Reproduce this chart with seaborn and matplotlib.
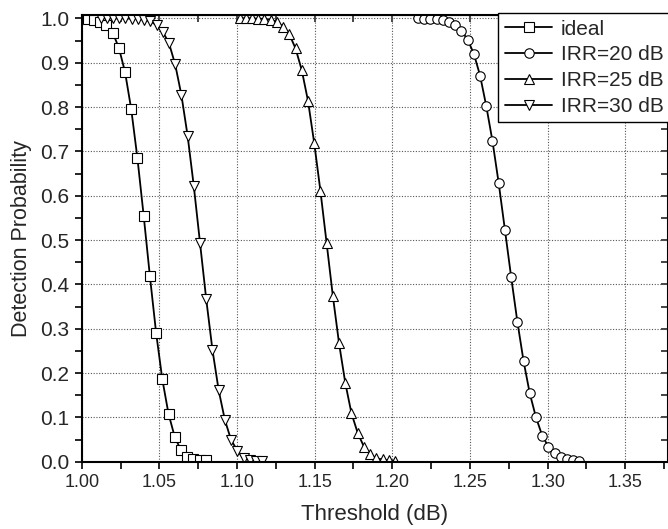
import numpy as np
import pandas as pd
import matplotlib
matplotlib.use('Agg')
import matplotlib.pyplot as plt
import seaborn as sns
from matplotlib.ticker import MultipleLocator, FormatStrFormatter

# detection probability vs threshold
ideal_x = [0.9999, 1.0039, 1.0079, 1.0119, 1.0159, 1.0199, 1.0239, 1.0279, 1.0319, 1.0359,
           1.0399, 1.0439, 1.0479, 1.0519, 1.0559, 1.0599, 1.0639, 1.0679, 1.0719, 1.0759, 1.0799]
ideal_p = [1.000, 0.998, 0.996, 0.992, 0.985, 0.968, 0.934, 0.879, 0.795, 0.684,
           0.555, 0.419, 0.291, 0.186, 0.108, 0.056, 0.026, 0.011, 0.005, 0.004, 0.003]

irr20_x = [1.2165, 1.2205, 1.2245, 1.2285, 1.2325, 1.2365, 1.2405, 1.2445, 1.2485, 1.2525,
           1.2565, 1.2605, 1.2645, 1.2685, 1.2725, 1.2765, 1.2805, 1.2845, 1.2885, 1.2925,
           1.2965, 1.3005, 1.3045, 1.3085, 1.3125, 1.3165, 1.3205]
irr20_p = [1.000, 0.999, 0.999, 0.998, 0.996, 0.992, 0.985, 0.972, 0.952, 0.920,
           0.871, 0.802, 0.723, 0.628, 0.523, 0.417, 0.316, 0.227, 0.154, 0.100,
           0.059, 0.034, 0.019, 0.011, 0.007, 0.004, 0.002]

irr25_x = [1.1017, 1.1057, 1.1097, 1.1137, 1.1177, 1.1217, 1.1257, 1.1297, 1.1337, 1.1377,
           1.1417, 1.1457, 1.1497, 1.1537, 1.1577, 1.1617, 1.1657, 1.1697, 1.1737, 1.1777,
           1.1817, 1.1857, 1.1897, 1.1937, 1.1977, 1.2017]
irr25_p = [1.000, 1.000, 1.000, 0.999, 0.999, 0.997, 0.992, 0.981, 0.964, 0.932,
           0.883, 0.814, 0.719, 0.611, 0.493, 0.374, 0.267, 0.178, 0.109, 0.065,
           0.034, 0.017, 0.008, 0.005, 0.003, 0.002]

irr30_x = [1.0122, 1.0162, 1.0202, 1.0242, 1.0282, 1.0322, 1.0362, 1.0402, 1.0442, 1.0482,
           1.0522, 1.0562, 1.0602, 1.0642, 1.0682, 1.0722, 1.0762, 1.0802, 1.0842, 1.0882,
           1.0922, 1.0962, 1.1002, 1.1042, 1.1082, 1.1122, 1.1162]
irr30_p = [1.000, 1.000, 1.000, 1.000, 1.000, 0.999, 0.999, 0.997, 0.993, 0.985,
           0.970, 0.944, 0.896, 0.827, 0.735, 0.621, 0.493, 0.366, 0.252, 0.161,
           0.094, 0.049, 0.025, 0.008, 0.004, 0.002, 0.001]

series = [('ideal', ideal_x, ideal_p, 's', 6.5),
          ('IRR=20 dB', irr20_x, irr20_p, 'o', 6.8),
          ('IRR=25 dB', irr25_x, irr25_p, '^', 7.5),
          ('IRR=30 dB', irr30_x, irr30_p, 'v', 7.5)]

sns.set_style('ticks')
plt.rcParams['font.family'] = ['Liberation Sans', 'DejaVu Sans']

fig = plt.figure(figsize=(6.68, 5.29), dpi=100)
ax = fig.add_axes([0.1223, 0.1272, 0.8777, 0.8444])

for name, xs, ps, mk, ms in series:
    df = pd.DataFrame({'x': xs, 'p': ps})
    sns.lineplot(data=df, x='x', y='p', ax=ax, color='black', lw=1.3,
                 marker=mk, markersize=ms, markerfacecolor='white',
                 markeredgecolor='black', markeredgewidth=0.8, label=name)

ax.set_xlim(1.0, 1.3775)
ax.set_ylim(0, 1.0075)
ax.xaxis.set_major_locator(MultipleLocator(0.05))
ax.xaxis.set_minor_locator(MultipleLocator(0.025))
ax.yaxis.set_major_locator(MultipleLocator(0.1))
ax.yaxis.set_minor_locator(MultipleLocator(0.05))
ax.xaxis.set_major_formatter(FormatStrFormatter('%.2f'))
ax.yaxis.set_major_formatter(FormatStrFormatter('%.1f'))
ax.grid(True, which='major', color='#555555', linestyle=(0, (1, 1.5)), linewidth=0.8)
ax.tick_params(which='both', direction='out', length=5, width=1.2,
               color='black', pad=4)
ax.tick_params(axis='x', labelsize=13)
ax.tick_params(axis='y', labelsize=15)
for s in ax.spines.values():
    s.set_linewidth(1.5)
    s.set_color('black')

top = ax.secondary_xaxis('top')
top.xaxis.set_major_locator(MultipleLocator(0.05))
top.xaxis.set_minor_locator(MultipleLocator(0.025))
top.tick_params(which='both', direction='in', length=5, width=1.2, labeltop=False)
right = ax.secondary_yaxis('right')
right.yaxis.set_major_locator(MultipleLocator(0.1))
right.yaxis.set_minor_locator(MultipleLocator(0.05))
right.tick_params(which='both', direction='in', length=5, width=1.2, labelright=False)

ax.set_xlabel('Threshold (dB)', fontsize=16, labelpad=9)
ax.set_ylabel('Detection Probability', fontsize=15.5, labelpad=6)

leg = ax.legend(loc='upper left', bbox_to_anchor=(0.746, 0.9749),
                bbox_transform=fig.transFigure, fontsize=15, frameon=True,
                fancybox=False, edgecolor='black', framealpha=1,
                borderpad=0.3, labelspacing=0.33, handlelength=2.3,
                handletextpad=0.4, borderaxespad=0)
leg.get_frame().set_linewidth(1.0)

fig.savefig('out.png', dpi=100)
